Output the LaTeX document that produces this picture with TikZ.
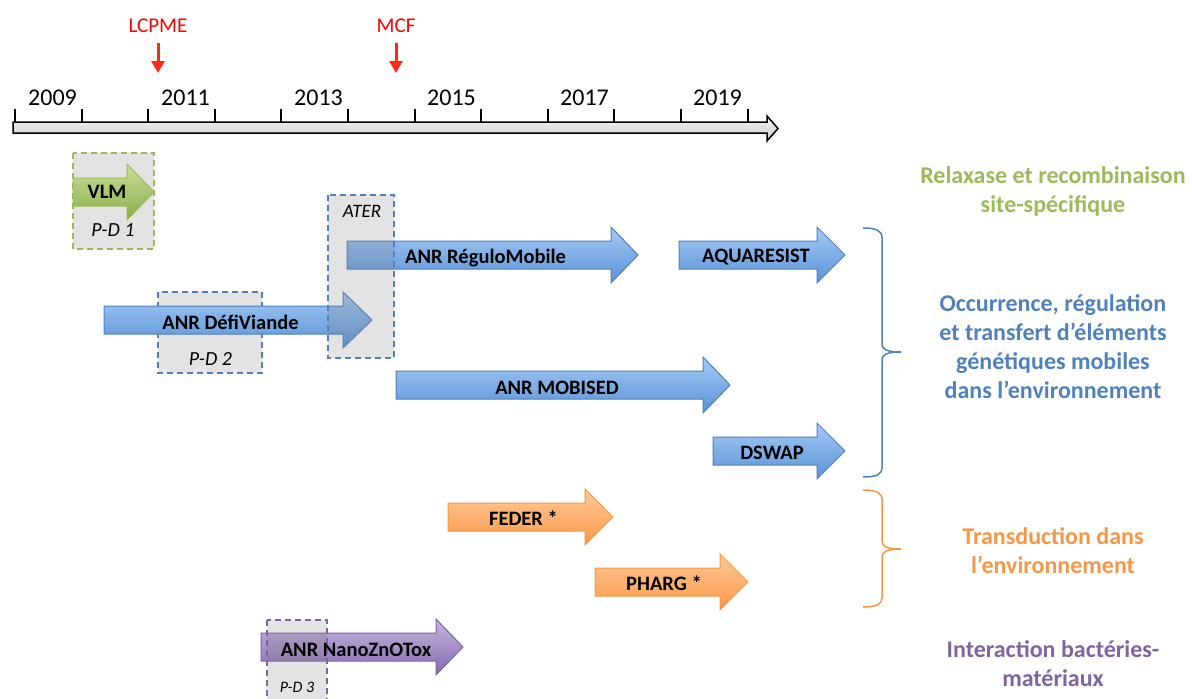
\documentclass[tikz,border=0pt]{standalone}
\usepackage{fontspec}
\setmainfont{Carlito}
\usetikzlibrary{arrows.meta}

\definecolor{eventred}{RGB}{250,45,20}
\definecolor{axtop}{RGB}{246,246,246}
\definecolor{axbot}{RGB}{200,200,200}
\definecolor{bluetop}{RGB}{165,202,245}
\definecolor{bluebot}{RGB}{88,146,214}
\definecolor{blueline}{RGB}{79,129,189}
\definecolor{greentop}{RGB}{202,224,152}
\definecolor{greenbot}{RGB}{135,174,74}
\definecolor{greenline}{RGB}{155,187,89}
\definecolor{orangetop}{RGB}{255,202,152}
\definecolor{orangebot}{RGB}{250,152,72}
\definecolor{orangeline}{RGB}{247,150,70}
\definecolor{purpletop}{RGB}{200,182,226}
\definecolor{purplebot}{RGB}{133,104,172}
\definecolor{purpleline}{RGB}{128,100,162}
\definecolor{boxgray}{RGB}{128,128,128}

\begin{document}
\begin{tikzpicture}[x=1pt,y=1pt,
    year/.style={font=\fontsize{24}{29}\selectfont,anchor=base,inner sep=0pt},
    event/.style={font=\fontsize{21}{25}\selectfont,text=red,anchor=base,inner sep=0pt},
    eventarrow/.style={eventred,line width=3pt,arrows = -{Triangle[width=13pt,length=12pt]}},
    projtext/.style={font=\bfseries\fontsize{20.5}{24}\selectfont,anchor=base,inner sep=0pt},
    pdtext/.style={font=\itshape\fontsize{20}{24}\selectfont,anchor=base,inner sep=0pt},
    pdbox/.style={line width=1.5pt,dash pattern=on 6pt off 4pt,fill=boxgray,fill opacity=0.22},
    bluearrow/.style={draw=blueline,line width=1pt,top color=bluetop,bottom color=bluebot},
    greenarrow/.style={draw=greenline,line width=1pt,top color=greentop,bottom color=greenbot},
    orangearrow/.style={draw=orangeline,line width=1pt,top color=orangetop,bottom color=orangebot},
    purplearrow/.style={draw=purpleline,line width=1pt,top color=purpletop,bottom color=purplebot},
    theme/.style={font=\bfseries\fontsize{24}{29}\selectfont,align=center,inner sep=0pt},
    brace/.style={line width=1.5pt}]

    \useasboundingbox (0,0) rectangle (1192,-699);

    %time axis
    \path[draw=black,line width=1.5pt,top color=axtop,bottom color=axbot]
        (13,-122) -- (767,-122) -- (767,-116) -- (778,-128.5) -- (767,-141) -- (767,-133) -- (13,-133) -- cycle;
    \draw[line width=2pt] (15,-109) -- (15,-122) (81.6,-109) -- (81.6,-122)
        (148.2,-109) -- (148.2,-122) (214.8,-109) -- (214.8,-122)
        (281.4,-109) -- (281.4,-122) (348,-109) -- (348,-122)
        (414.6,-109) -- (414.6,-122) (481.2,-109) -- (481.2,-122)
        (547.8,-109) -- (547.8,-122) (614.4,-109) -- (614.4,-122)
        (681,-109) -- (681,-122) (747.6,-109) -- (747.6,-122);

    \path   (52.5,-105) node (y2009) [year] {2009}
            (185.5,-105) node (y2011) [year] {2011}
            (318.5,-105) node (y2013) [year] {2013}
            (451.5,-105) node (y2015) [year] {2015}
            (584.5,-105) node (y2017) [year] {2017}
            (717.5,-105) node (y2019) [year] {2019};

    \path   (158,-32) node (lcpme) [event] {LCPME}
            (396,-32) node (mcf) [event] {MCF};
    \coordinate (lcpmeend) at (158,-73);
    \coordinate (mcfend) at (396,-73);
    \draw[eventarrow,shorten <=11pt] (lcpme) -- (lcpmeend);
    \draw[eventarrow,shorten <=11pt] (mcf) -- (mcfend);

    %boxes under the arrows
    \draw[pdbox,draw=greenline] (73,-153) rectangle (154,-249);
    \draw[pdbox,draw=blueline] (158,-292) rectangle (262,-373);

    \path[greenarrow] (73,-178) -- (127,-178) -- (127,-164) -- (154,-192) -- (127,-220) -- (127,-206) -- (73,-206) -- cycle;
    \path[bluearrow] (104,-306) -- (343,-306) -- (343,-292) -- (372,-320) -- (343,-348) -- (343,-334) -- (104,-334) -- cycle;
    \path[bluearrow] (347,-241) -- (611,-241) -- (611,-227) -- (638,-255) -- (611,-283) -- (611,-269) -- (347,-269) -- cycle;
    \path[bluearrow] (679,-241) -- (817,-241) -- (817,-227) -- (845,-255) -- (817,-283) -- (817,-269) -- (679,-269) -- cycle;
    \path[bluearrow] (396,-371) -- (703,-371) -- (703,-357) -- (730,-385) -- (703,-413) -- (703,-399) -- (396,-399) -- cycle;
    \path[bluearrow] (713,-437) -- (817,-437) -- (817,-423) -- (845,-451) -- (817,-479) -- (817,-465) -- (713,-465) -- cycle;
    \path[orangearrow] (448,-503) -- (585,-503) -- (585,-489) -- (613,-517) -- (585,-545) -- (585,-531) -- (448,-531) -- cycle;
    \path[orangearrow] (595,-568) -- (720,-568) -- (720,-554) -- (748,-582) -- (720,-610) -- (720,-596) -- (595,-596) -- cycle;
    \path[purplearrow] (261,-633) -- (436,-633) -- (436,-619) -- (463,-647) -- (436,-675) -- (436,-661) -- (261,-661) -- cycle;

    %boxes over the arrows
    \draw[pdbox,draw=blueline] (328,-195) rectangle (394,-358);
    \draw[pdbox,draw=purpleline] (267,-620) rectangle (327,-712);

    \path   (107,-198) node (vlm) [projtext] {VLM}
            (230.5,-329) node (defi) [projtext] {ANR DéfiViande}
            (485.5,-263) node (regulo) [projtext] {ANR RéguloMobile}
            (756,-262) node (aqua) [projtext] {AQUARESIST}
            (557,-394) node (mobised) [projtext] {ANR MOBISED}
            (772,-459) node (dswap) [projtext] {DSWAP}
            (523.5,-525) node (feder) [projtext] {FEDER *}
            (664,-590) node (pharg) [projtext] {PHARG *}
            (356,-656) node (nano) [projtext] {ANR NanoZnOTox};

    \path   (113,-236) node (pd1) [pdtext] {P-D 1}
            (210.5,-365) node (pd2) [pdtext] {P-D 2}
            (362,-217) node (ater) [pdtext,font=\itshape\fontsize{19}{23}\selectfont] {ATER}
            (297,-692) node (pd3) [pdtext,font=\itshape\fontsize{16}{19}\selectfont] {P-D 3};

    %braces
    \draw[brace,blueline] (863,-228) .. controls (877,-228) and (882,-231) .. (882,-238) -- (882,-344)
        .. controls (882,-349) and (886,-352) .. (901,-352) .. controls (886,-352) and (882,-355) .. (882,-360)
        -- (882,-468) .. controls (882,-474) and (877,-477) .. (863,-477);
    \draw[brace,orangeline] (863,-490) .. controls (877,-490) and (882,-493) .. (882,-500) -- (882,-541)
        .. controls (882,-546) and (886,-549) .. (901,-549) .. controls (886,-549) and (882,-552) .. (882,-557)
        -- (882,-598) .. controls (882,-604) and (877,-607) .. (863,-607);

    \path   (1053,-191) node (relax) [theme,text=greenline] {Relaxase et recombinaison\\site-spécifique}
            (1053,-347) node (occur) [theme,text=blueline] {Occurrence, régulation\\et transfert d’éléments\\génétiques mobiles\\dans l’environnement}
            (1053,-551) node (transd) [theme,text=orangeline] {Transduction dans\\l’environnement}
            (1053,-664) node (interac) [theme,text=purpleline] {Interaction bactéries-\\matériaux};

\end{tikzpicture}
\end{document}
